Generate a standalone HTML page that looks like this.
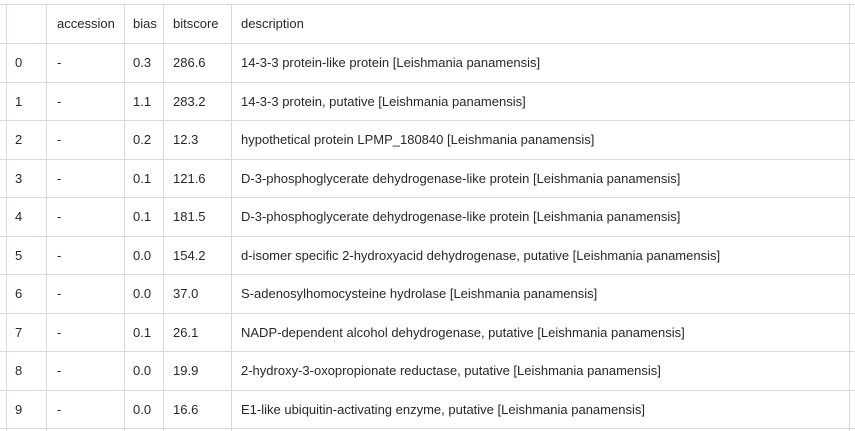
<!DOCTYPE html>
<html><head><meta charset="utf-8">
<style>
html,body{margin:0;padding:0;width:855px;height:431px;overflow:hidden;background:#fff;}
body{position:relative;font-family:"Liberation Sans",sans-serif;font-size:13px;color:#24292f;}
.h{position:absolute;height:1px;background:#d5dae1;left:0;width:855px;}
.v{position:absolute;width:1px;background:#d5dae1;top:4px;height:427px;}
.c{position:absolute;white-space:nowrap;line-height:15px;}
</style></head><body>
<div id="t"></div>
<script>
const idx=["0","1","2","3","4","5","6","7","8","9"];
const bias=["0.3","1.1","0.2","0.1","0.1","0.0","0.0","0.1","0.0","0.0"];
const bits=["286.6","283.2","12.3","121.6","181.5","154.2","37.0","26.1","19.9","16.6"];
const desc=["14-3-3 protein-like protein [Leishmania panamensis]","14-3-3 protein, putative [Leishmania panamensis]","hypothetical protein LPMP_180840 [Leishmania panamensis]","D-3-phosphoglycerate dehydrogenase-like protein [Leishmania panamensis]","D-3-phosphoglycerate dehydrogenase-like protein [Leishmania panamensis]","d-isomer specific 2-hydroxyacid dehydrogenase, putative [Leishmania panamensis]","S-adenosylhomocysteine hydrolase [Leishmania panamensis]","NADP-dependent alcohol dehydrogenase, putative [Leishmania panamensis]","2-hydroxy-3-oxopropionate reductase, putative [Leishmania panamensis]","E1-like ubiquitin-activating enzyme, putative [Leishmania panamensis]"];
const t=document.getElementById('t');
function line(cls,prop,val){const d=document.createElement('div');d.className=cls;d.style[prop]=val+'px';


t.appendChild(d);}
function cell(x,y,txt,name){const d=document.createElement('div');d.className='c';d.style.left=x+'px';d.style.top=y+'px';d.textContent=txt;


t.appendChild(d);}
line('h','top',4);line('h','top',43);
for(let i=0;i<10;i++)line('h','top',Math.round(43+(i+1)*38.5));
[6,46,124,163,231,849].forEach(x=>line('v','left',x));
const hy=16;
cell(57,hy,'accession','header-accession');cell(133,hy,'bias','header-bias');cell(173,hy,'bitscore','header-bitscore');cell(241,hy,'description','header-description');
for(let i=0;i<idx.length;i++){const y=Math.round(43+i*38.5+12);
cell(15,y,idx[i],'row-index');cell(57,y,'-','row-accession');cell(133,y,bias[i],'row-bias');cell(173,y,bits[i],'row-bitscore');cell(241,y,desc[i],'row-description');}
</script>
</body></html>
